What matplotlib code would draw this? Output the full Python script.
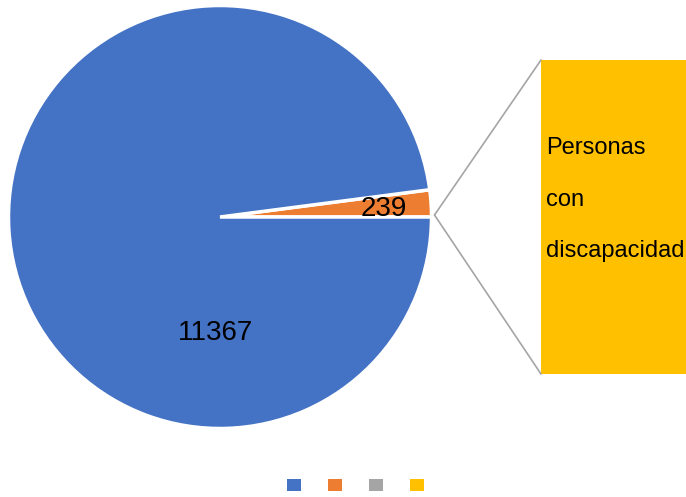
import matplotlib
matplotlib.use('Agg')
import matplotlib.pyplot as plt
from matplotlib.patches import Patch, ConnectionPatch

plt.rcParams['font.family'] = ['Liberation Sans', 'DejaVu Sans']

# data
categories = ['Otras personas', 'Personas con discapacidad']
values = [11367, 239]
legend_colors = ['#4472C4', '#ED7D31', '#A5A5A5', '#FFC000']

BLUE, ORANGE, GRAY, YELLOW = legend_colors
W, H = 686, 497

fig = plt.figure(figsize=(W / 100, H / 100), dpi=100)
ax = fig.add_axes([0, 0, 1, 1])

# pie in pixel-like coordinates (y up)
cx, cy, r = 220, H - 217, 211.5
wedges, _ = ax.pie([values[1], values[0]], colors=[ORANGE, BLUE], startangle=0,
                   counterclock=True, center=(cx, cy), radius=r,
                   wedgeprops=dict(edgecolor='white', linewidth=2.5))
ax.set_xlim(0, W)
ax.set_ylim(0, H)
ax.set_aspect('equal')
ax.axis('off')

ax.text(384, H - 209, str(values[1]), fontsize=20, ha='center', va='center')
ax.text(215, H - 333, str(values[0]), fontsize=20, ha='center', va='center')

# the bar of the pie-of-bar
bx0, by0, bx1, by1 = 541, 60, 690, 374
ax2 = fig.add_axes([bx0 / W, 1 - by1 / H, (bx1 - bx0) / W, (by1 - by0) / H])
ax2.bar([0], [values[1]], width=1, color=YELLOW)
ax2.set_xlim(-0.5, 0.5)
ax2.set_ylim(0, values[1])
ax2.axis('off')
ax2.text(0.035, 0.555, categories[1].replace(' ', '\n\n'), transform=ax2.transAxes,
         fontsize=17, ha='left', va='center', linespacing=1.22)

# connector lines
for yb in (1, 0):
    con = ConnectionPatch(xyA=(cx + r + 3, cy + 2), coordsA=ax.transData,
                          xyB=(0, yb), coordsB=ax2.transAxes,
                          color=GRAY, linewidth=1.2)
    fig.add_artist(con)

handles = [Patch(facecolor=c) for c in legend_colors]
ax.legend(handles, ['', '', '', ''], ncol=4, loc='center',
          bbox_to_anchor=(361 / W, 1 - 486 / H), bbox_transform=fig.transFigure,
          frameon=False, fontsize=10, handlelength=1, handleheight=1,
          handletextpad=0.8, columnspacing=1.15)

fig.savefig('out.png', dpi=100)
